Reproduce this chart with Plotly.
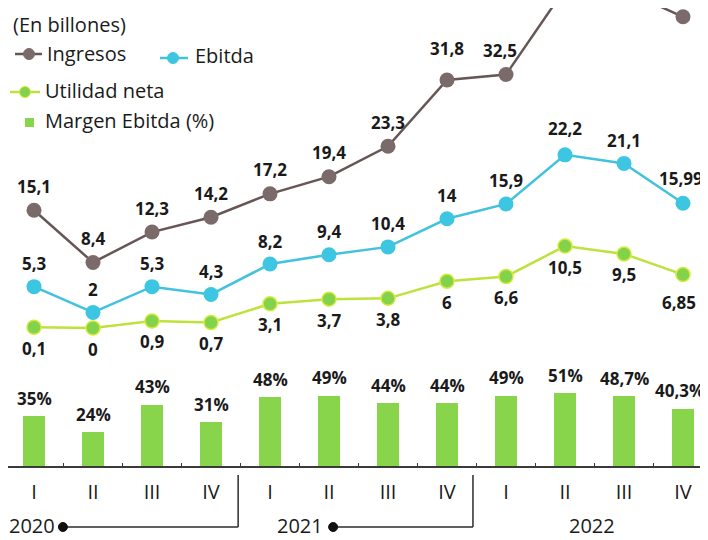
import plotly.graph_objects as go

# ---------------- data ----------------
quarters = ["I", "II", "III", "IV", "I", "II", "III", "IV", "I", "II", "III", "IV"]
years = ["2020", "2021", "2022"]
ingresos = [15.1, 8.4, 12.3, 14.2, 17.2, 19.4, 23.3, 31.8, 32.5, 43.5, 43.3, 39.9]
ebitda = [5.3, 2, 5.3, 4.3, 8.2, 9.4, 10.4, 14, 15.9, 22.2, 21.1, 15.99]
utilidad = [0.1, 0, 0.9, 0.7, 3.1, 3.7, 3.8, 6, 6.6, 10.5, 9.5, 6.85]
margen = [35, 24, 43, 31, 48, 49, 44, 44, 49, 51, 48.7, 40.3]

# ---------------- style ----------------
OFF = 8                      # page body margin of the browser
W, H = 708 - OFF, 540 - OFF  # figure size so that it fits the window
FONT = "Open Sans, Noto Sans, DejaVu Sans, sans-serif"
C_ING_LINE, C_ING_MK = "#675656", "#7b6a6a"
C_EB_LINE, C_EB_MK = "#42c2dc", "#3cc6e2"
C_UT_LINE, C_UT_MK = "#bde23c", "#82d24c"
C_BAR = "#88d54b"
TXT = "#1a1a1a"

x = list(range(len(quarters)))

# layout geometry (in window pixels)
X_FIRST, X_STEP = 34, 59.0
ZERO_LINES, PX_PER_UNIT = 328, 7.8
ZERO_BARS, PX_PER_PCT = 467, 1.45

Y_TOP = (ZERO_LINES - OFF) / PX_PER_UNIT
Y_BOT = -(540 - ZERO_LINES) / PX_PER_UNIT
B_TOP = (ZERO_BARS - OFF) / PX_PER_PCT
B_BOT = -(540 - ZERO_BARS) / PX_PER_PCT
X0 = -(X_FIRST - OFF) / X_STEP
X1 = X0 + W / X_STEP


def fmt(v):
    return f"{v:g}".replace(".", ",")


def px(xp):
    return (xp - OFF) / W


def py(yp):
    return 1 - (yp - OFF) / H


fig = go.Figure()

fig.add_trace(go.Bar(
    x=x, y=margen, yaxis="y2", width=0.36,
    marker=dict(color=C_BAR, line=dict(width=0)),
    name="Margen Ebitda (%)", showlegend=False, hoverinfo="skip"))

for vals, lc, mc, msz, mline, name in [
    (utilidad, C_UT_LINE, C_UT_MK, 14, dict(color="#d6ea3c", width=1.5), "Utilidad neta"),
    (ebitda, C_EB_LINE, C_EB_MK, 15, dict(color=C_EB_MK, width=0), "Ebitda"),
    (ingresos, C_ING_LINE, C_ING_MK, 15, dict(color=C_ING_MK, width=0), "Ingresos"),
]:
    fig.add_trace(go.Scatter(
        x=x, y=vals, mode="lines+markers", name=name, showlegend=False,
        line=dict(color=lc, width=2.5),
        marker=dict(color=mc, size=msz, line=mline),
        hoverinfo="skip"))

annotations = []
num_font = dict(family=FONT, size=17, color=TXT, weight="bold")

# value labels (labels that would fall above the top edge stay out of view,
# as in the original page)
label_shift = {"ing": 24, "eb": 23, "ut": -21}
overrides = {("ing", 7): (0, 31), ("ing", 8): (-6, 24), ("ut", 11): (-4, -28),
             ("eb", 9): (0, 26), ("eb", 11): (-2, 25)}
for key, vals in [("ing", ingresos), ("eb", ebitda), ("ut", utilidad)]:
    for i, v in enumerate(vals):
        dx, dy = overrides.get((key, i), (0, label_shift[key]))
        label_px = ZERO_LINES - v * PX_PER_UNIT - dy
        if label_px < OFF + 10:
            continue
        annotations.append(dict(
            x=i, y=v, xref="x", yref="y", text=fmt(v), showarrow=False,
            xanchor="center", yanchor="middle", xshift=dx, yshift=dy,
            font=num_font))

# bar labels
for i, v in enumerate(margen):
    annotations.append(dict(
        x=i, y=v, xref="x", yref="y2", text=fmt(v) + "%", showarrow=False,
        xanchor="center", yanchor="middle", yshift=18,
        xshift=-4 if i == len(margen) - 1 else 0, font=num_font))

# legend text
leg_font = dict(family=FONT, size=20, color=TXT)
annotations += [
    dict(x=px(11), y=py(24), xref="paper", yref="paper", text="(En billones)",
         showarrow=False, xanchor="left", yanchor="middle", font=leg_font),
    dict(x=px(45), y=py(54), xref="paper", yref="paper", text="Ingresos",
         showarrow=False, xanchor="left", yanchor="middle", font=leg_font),
    dict(x=px(193), y=py(55), xref="paper", yref="paper", text="Ebitda",
         showarrow=False, xanchor="left", yanchor="middle", font=leg_font),
    dict(x=px(43), y=py(90), xref="paper", yref="paper", text="Utilidad neta",
         showarrow=False, xanchor="left", yanchor="middle", font=leg_font),
    dict(x=px(43), y=py(121), xref="paper", yref="paper", text="Margen Ebitda (%)",
         showarrow=False, xanchor="left", yanchor="middle", font=leg_font),
]

# year labels
year_x = [-0.03, 4.5, 9.46]
for yx, yr in zip(year_x, years):
    annotations.append(dict(
        x=yx, y=py(525), xref="x", yref="paper", text=yr, showarrow=False,
        xanchor="center", yanchor="middle", font=dict(family=FONT, size=20, color=TXT)))

shapes = []


def pline(x0, y0, x1, y1, color, width=2.5):
    shapes.append(dict(type="line", xref="paper", yref="paper",
                       x0=px(x0), y0=py(y0), x1=px(x1), y1=py(y1),
                       line=dict(color=color, width=width)))


def pdot(xc, yc, r, color, lcolor=None):
    shapes.append(dict(type="circle", xref="paper", yref="paper",
                       xsizemode="pixel", ysizemode="pixel",
                       xanchor=px(xc), yanchor=py(yc),
                       x0=-r, x1=r, y0=-r, y1=r,
                       fillcolor=color, line=dict(color=lcolor or color, width=1)))


# legend symbols
pline(15, 54, 42, 54, C_ING_LINE, 2.5)
pdot(29, 54, 5.5, C_ING_MK)
pline(160, 58, 188, 58, C_EB_LINE, 2.5)
pdot(173, 58, 5.5, C_EB_MK)
pline(10, 92, 40, 92, C_UT_LINE, 2.5)
pdot(25, 92, 5.5, C_UT_MK, "#d6ea3c")
shapes.append(dict(type="rect", xref="paper", yref="paper",
                   x0=px(25), x1=px(34), y0=py(118), y1=py(127),
                   fillcolor=C_BAR, line=dict(width=0)))

# year brackets (x in data units, y in paper)
LC = "#2b2b2b"
for x_dot, x_sep in [(0.49, 3.46), (5.07, 7.44)]:
    shapes.append(dict(type="line", xref="x", yref="paper",
                       x0=x_dot, x1=x_sep, y0=py(527), y1=py(527),
                       line=dict(color=LC, width=1.5)))
    shapes.append(dict(type="line", xref="x", yref="paper",
                       x0=x_sep, x1=x_sep, y0=py(527), y1=py(475),
                       line=dict(color=LC, width=1.5)))
    shapes.append(dict(type="circle", xref="x", yref="paper",
                       xsizemode="pixel", ysizemode="pixel",
                       xanchor=x_dot, yanchor=py(527),
                       x0=-4.5, x1=4.5, y0=-4.5, y1=4.5,
                       fillcolor="#111", line=dict(color="#111", width=1)))

fig.update_layout(
    width=W, height=H,
    margin=dict(l=0, r=0, t=0, b=0),
    paper_bgcolor="white", plot_bgcolor="white",
    showlegend=False,
    bargap=0,
    xaxis=dict(
        range=[X0, X1], showgrid=False, zeroline=False,
        tickmode="array", tickvals=x, ticktext=quarters,
        ticks="", ticklabelstandoff=7,
        tickfont=dict(family=FONT, size=20, color=TXT),
        showline=True, linecolor="#3a3a3a", linewidth=1.5,
        anchor="free", position=(540 - ZERO_BARS) / H,
        minor=dict(tickmode="array", tickvals=[i + 0.5 for i in range(-1, 12)],
                   ticks="inside", ticklen=3, tickcolor="#3a3a3a", tickwidth=1.2,
                   showgrid=False),
    ),
    yaxis=dict(range=[Y_BOT, Y_TOP], visible=False, fixedrange=True),
    yaxis2=dict(range=[B_BOT, B_TOP], overlaying="y", visible=False),
    annotations=annotations,
    shapes=shapes,
)

fig.write_html("out.html")
